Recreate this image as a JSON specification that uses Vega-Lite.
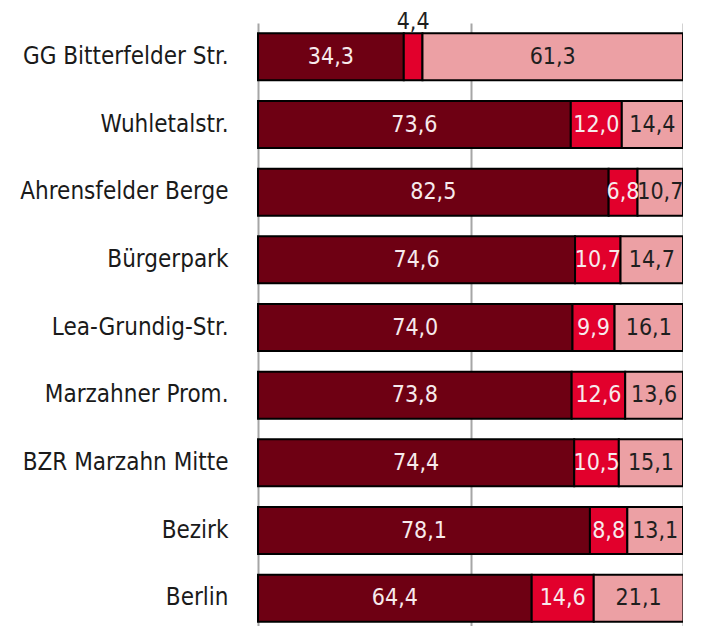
{
  "$schema": "https://vega.github.io/schema/vega-lite/v6.json",
  "autosize": "none",
  "width": 425,
  "height": 609,
  "padding": {"left": 258, "top": 23, "right": 0, "bottom": 0},
  "config": {
    "view": {"stroke": null},
    "locale": {"number": {"decimal": ",", "thousands": ".", "grouping": [3], "currency": ["", " €"]}},
    "font": "DejaVu Sans Condensed, Roboto"
  },
  "data": {"values": [
    {"ort": "GG Bitterfelder Str.", "kat": "1", "wert": 34.3},
    {"ort": "GG Bitterfelder Str.", "kat": "2", "wert": 4.4},
    {"ort": "GG Bitterfelder Str.", "kat": "3", "wert": 61.3},
    {"ort": "Wuhletalstr.", "kat": "1", "wert": 73.6},
    {"ort": "Wuhletalstr.", "kat": "2", "wert": 12.0},
    {"ort": "Wuhletalstr.", "kat": "3", "wert": 14.4},
    {"ort": "Ahrensfelder Berge", "kat": "1", "wert": 82.5},
    {"ort": "Ahrensfelder Berge", "kat": "2", "wert": 6.8},
    {"ort": "Ahrensfelder Berge", "kat": "3", "wert": 10.7},
    {"ort": "Bürgerpark", "kat": "1", "wert": 74.6},
    {"ort": "Bürgerpark", "kat": "2", "wert": 10.7},
    {"ort": "Bürgerpark", "kat": "3", "wert": 14.7},
    {"ort": "Lea-Grundig-Str.", "kat": "1", "wert": 74.0},
    {"ort": "Lea-Grundig-Str.", "kat": "2", "wert": 9.9},
    {"ort": "Lea-Grundig-Str.", "kat": "3", "wert": 16.1},
    {"ort": "Marzahner Prom.", "kat": "1", "wert": 73.8},
    {"ort": "Marzahner Prom.", "kat": "2", "wert": 12.6},
    {"ort": "Marzahner Prom.", "kat": "3", "wert": 13.6},
    {"ort": "BZR Marzahn Mitte", "kat": "1", "wert": 74.4},
    {"ort": "BZR Marzahn Mitte", "kat": "2", "wert": 10.5},
    {"ort": "BZR Marzahn Mitte", "kat": "3", "wert": 15.1},
    {"ort": "Bezirk", "kat": "1", "wert": 78.1},
    {"ort": "Bezirk", "kat": "2", "wert": 8.8},
    {"ort": "Bezirk", "kat": "3", "wert": 13.1},
    {"ort": "Berlin", "kat": "1", "wert": 64.4},
    {"ort": "Berlin", "kat": "2", "wert": 14.6},
    {"ort": "Berlin", "kat": "3", "wert": 21.1}
  ]},
  "encoding": {
    "y": {
      "field": "ort", "type": "nominal", "sort": null,
      "scale": {"paddingInner": 0.306, "paddingOuter": 0.153},
      "axis": {"title": null, "ticks": false, "domain": false, "labelPadding": 30, "labelLimit": 300,
               "labelFontSize": 24, "labelFont": "DejaVu Sans Condensed, Roboto", "labelColor": "#1a1a1a"}
    },
    "order": {"field": "kat", "type": "ordinal"}
  },
  "layer": [
    {
      "mark": {"type": "bar", "stroke": "black", "strokeWidth": 2},
      "encoding": {
        "x": {
          "field": "wert", "type": "quantitative", "stack": "zero",
          "scale": {"domain": [0, 100], "nice": false},
          "axis": {"title": null, "values": [0, 50, 100], "grid": true, "gridColor": "#a6a6a6", "gridWidth": 2,
                   "labels": false, "ticks": false, "domain": false}
        },
        "color": {
          "field": "kat", "type": "nominal", "legend": null,
          "scale": {"domain": ["1", "2", "3"], "range": ["#6e0013", "#e2002c", "#eca0a4"]}
        }
      }
    },
    {
      "mark": {"type": "text", "fontSize": 23, "baseline": "middle", "align": "center"},
      "encoding": {
        "x": {"field": "wert", "type": "quantitative", "stack": "zero", "bandPosition": 0.5},
        "text": {"field": "wert", "type": "quantitative", "format": ".1f"},
        "color": {"condition": {"test": "datum.kat == '3'", "value": "#1f1f1f"}, "value": "#f7eaec"},
        "opacity": {"condition": {"test": "datum.wert < 5", "value": 0}, "value": 1}
      }
    },
    {
      "mark": {"type": "text", "fontSize": 23, "baseline": "middle", "align": "center", "dy": -35, "color": "#1f1f1f"},
      "encoding": {
        "x": {"field": "wert", "type": "quantitative", "stack": "zero", "bandPosition": 0.5},
        "text": {"field": "wert", "type": "quantitative", "format": ".1f"},
        "opacity": {"condition": {"test": "datum.wert < 5", "value": 1}, "value": 0}
      }
    }
  ]
}
